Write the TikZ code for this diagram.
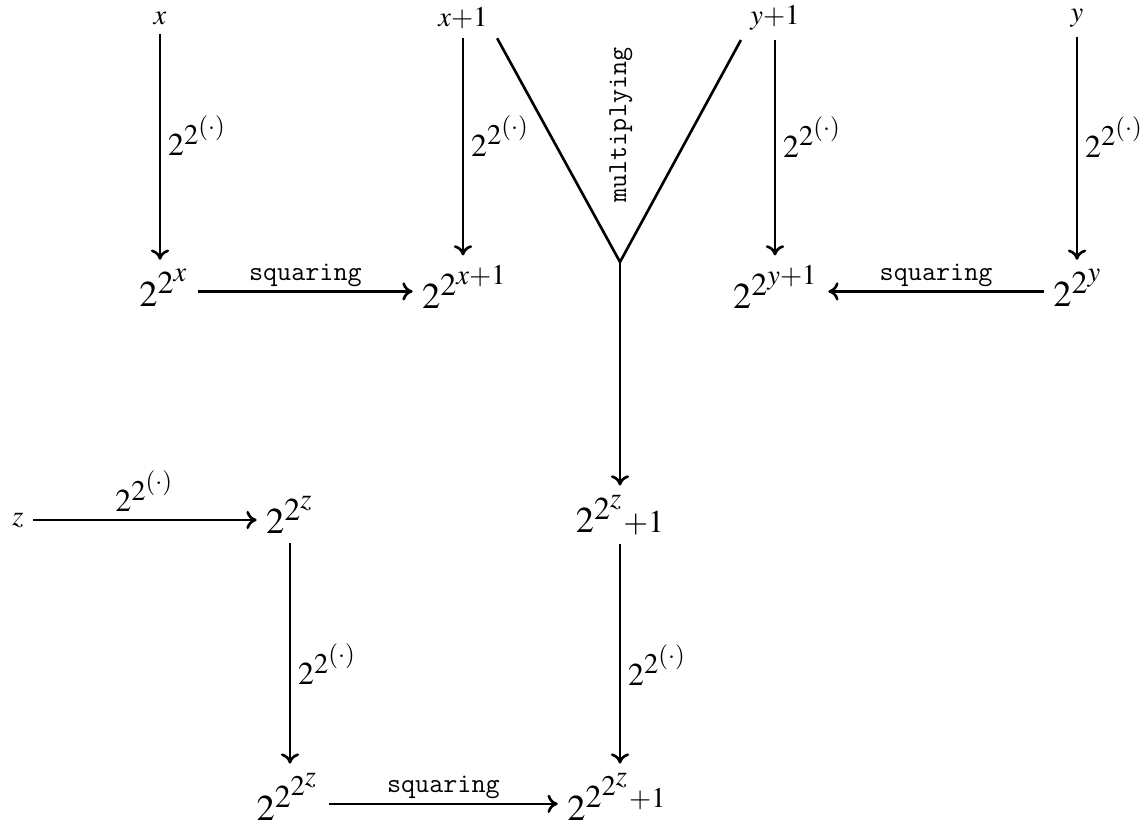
\documentclass[tikz,border=0pt,12pt]{standalone}
\usepackage{mathptmx}
\usepackage{fontspec}
\setmainfont{Liberation Serif}
\usetikzlibrary{arrows.meta}
\DeclareMathSizes{12}{12.5}{11}{10}
\DeclareMathSizes{16}{16}{14}{12.5}
\DeclareMathSizes{14}{14}{12.5}{11}
\DeclareMathSizes{12.5}{12.5}{10}{8}
\begin{document}
\begin{tikzpicture}[x=0.4386pt,y=-0.4386pt,
  top/.style={inner sep=4pt,font=\fontsize{12.5}{14}\selectfont},
  big/.style={inner sep=4pt,font=\fontsize{16}{19}\selectfont},
  fl/.style={font=\fontsize{14}{16}\selectfont,inner sep=3pt},
  arr/.style={-{To[length=4.5pt,width=8pt]},line width=1.15pt},
  ln/.style={line width=1.15pt},
  tt/.style={font=\fontsize{12}{13}\ttfamily},
  sq/.style={tt,above,inner sep=1.5pt}]
\useasboundingbox (0,0) rectangle (1143,834);
% top row
\node[top] (x)  at (160,18) {$x$};
\node[top] (xp) at (463,18) {$x{+}1$};
\node[top] (yp) at (775,18) {$y{+}1$};
\node[top] (y)  at (1077,18) {$y$};
\node[big] (X)  at (164,288) {$2^{2^x}$};
\node[big] (XP) at (465,287) {$2^{2^{x+1}}$};
\node[big] (YP) at (776,287) {$2^{2^{y+1}}$};
\node[big] (Y)  at (1078,288) {$2^{2^y}$};
\coordinate (j) at (620,262);
\node[tt,rotate=90] (mul) at (621,125) {multiplying};
% lower part
\node[top] (z)  at (18,520) {$z$};
\node[big] (Z)  at (290,515) {$2^{2^z}$};
\node[big] (M)  at (620,515) {$2^{2^z}{\scriptstyle{+}1}$};
\node[big] (ZZ) at (288,797) {$2^{2^{2^z}}$};
\node[big] (MM) at (617,797) {$2^{2^{2^z}{\scriptscriptstyle{+}1}}$};
% arrows top
\draw[arr] (x.south) -- (x.south |- X.north) node[pos=0.45,right,fl] {$2^{2^{(\cdot)}}$};
\draw[arr] (xp.south) -- (xp.south |- XP.north) node[pos=0.45,right,fl] {$2^{2^{(\cdot)}}$};
\draw[arr] (yp.south) -- (yp.south |- YP.north) node[pos=0.45,right,fl] {$2^{2^{(\cdot)}}$};
\draw[arr] (y.south) -- (y.south |- Y.north) node[pos=0.45,right,fl] {$2^{2^{(\cdot)}}$};
\draw[arr] ([yshift=-1.5pt]X.east) -- ([yshift=-1.5pt]X.east -| XP.west) node[midway,sq] {squaring};
\draw[arr] ([yshift=-1.5pt]Y.west) -- ([yshift=-1.5pt]Y.west -| YP.east) node[midway,sq] {squaring};
\draw[ln] (xp.south east) -- (j) -- (yp.south west);
\draw[arr] (j) -- (j |- M.north);
% arrows bottom
\draw[arr] (z.east) -- (z.east -| Z.west) node[midway,above,fl] {$2^{2^{(\cdot)}}$};
\draw[arr] (Z.south) -- (Z.south |- ZZ.north) node[pos=0.55,right,fl] {$2^{2^{(\cdot)}}$};
\draw[arr] (j |- M.south) -- (j |- MM.north) node[pos=0.55,right,fl] {$2^{2^{(\cdot)}}$};
\draw[arr] ([yshift=-3pt]ZZ.east) -- ([yshift=-3pt]ZZ.east -| MM.west) node[midway,sq] {squaring};
\end{tikzpicture}
\end{document}
